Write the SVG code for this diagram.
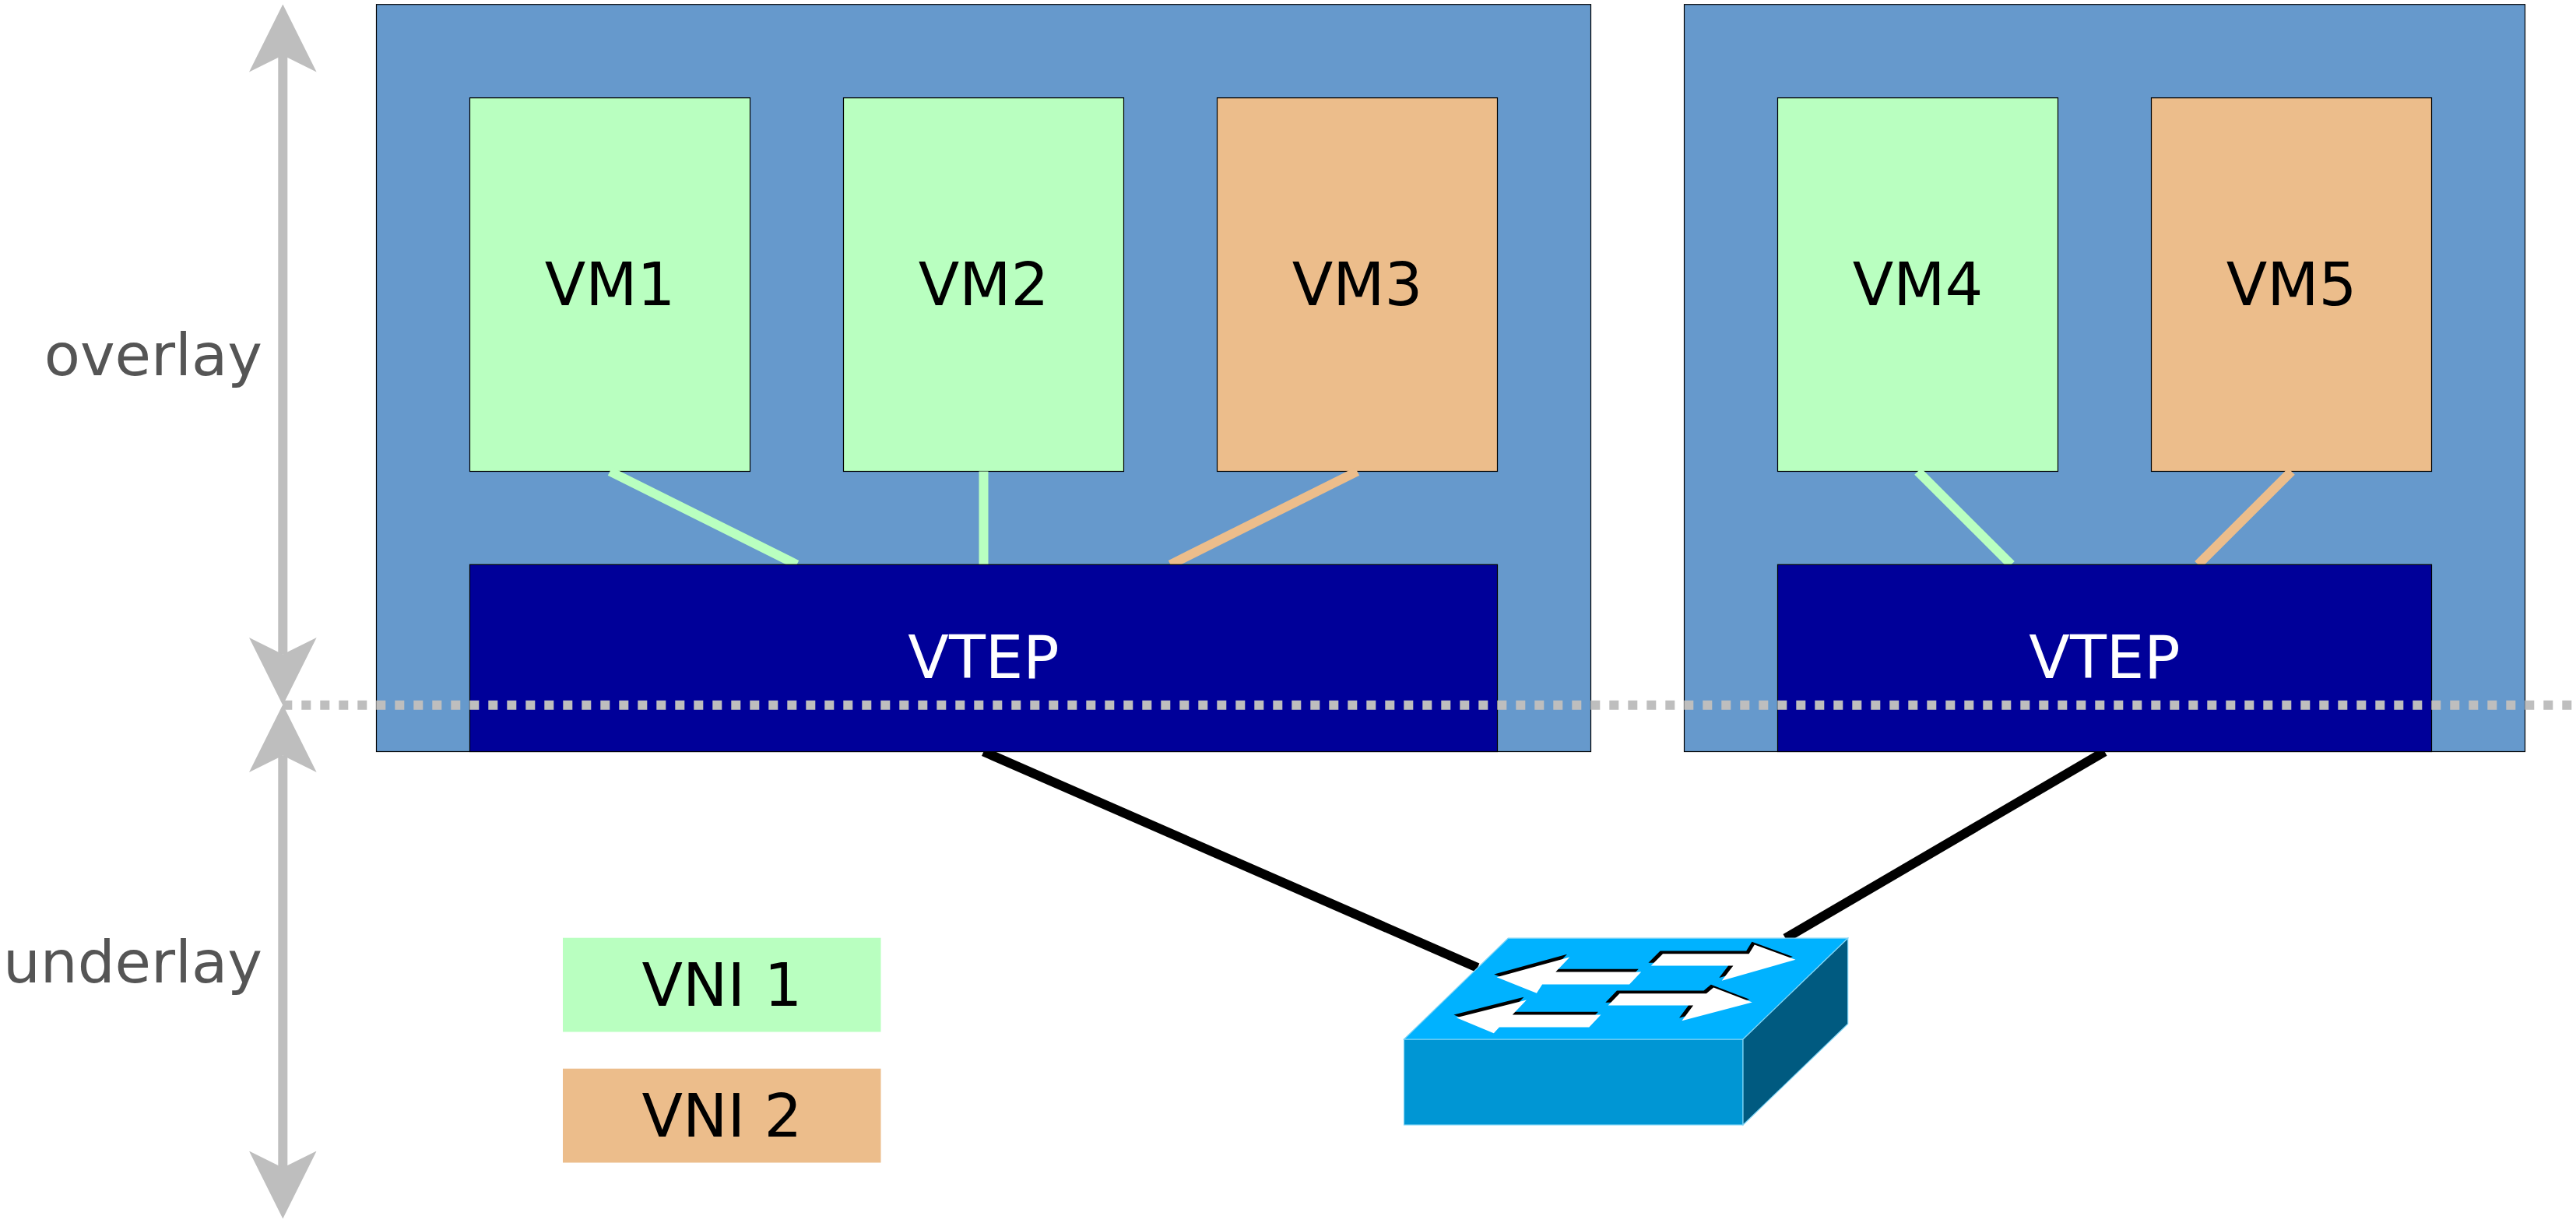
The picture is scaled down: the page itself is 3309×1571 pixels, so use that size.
<svg xmlns="http://www.w3.org/2000/svg" width="3309" height="1571" viewBox="0 0 3309 1571">
<style>
.host{fill:#6699cc;stroke:#000;stroke-width:1.2}
.g{fill:#b9ffc0}
.o{fill:#ecbd8b}
.vm{stroke:#000;stroke-width:1.2}
.vtep{fill:#000099;stroke:#000;stroke-width:1.2}
.t{font-family:"DejaVu Sans",sans-serif;font-size:76.8px;text-anchor:middle;fill:#000}
.w{fill:#fff}
.side{font-family:"DejaVu Sans",sans-serif;font-size:75.5px;text-anchor:end;fill:#555}
.c{stroke-width:12;fill:none}
.cg{stroke:#b9ffc0}
.co{stroke:#ecbd8b}
.ck{stroke:#000}
.ax{stroke:#bebebe;stroke-width:12;fill:none;marker-start:url(#head);marker-end:url(#head)}
.sw{stroke:#7fd4f5;stroke-width:1.2}
</style>
<defs>
<marker id="head" markerUnits="userSpaceOnUse" markerWidth="87" markerHeight="87" viewBox="0 0 87 87" refX="21.5" refY="43.35" orient="auto-start-reverse">
<path d="M87 43.35L0 0L21.5 43.35L0 86.7Z" fill="#bebebe"/>
</marker>
<polygon id="a1" points="1922.6,1255.2 2016.4,1229.5 1998.3,1248.5 2108.2,1248.5 2093,1264.5 1981.1,1264.5 1973.9,1275.8"/>
<polygon id="a2" points="1870.8,1307.2 1960.9,1284.5 1942.8,1303.5 2056.4,1303.5 2041.3,1319.5 1925.9,1319.5 1918.8,1327.2"/>
<polygon id="a3" points="2120.8,1240.5 2136,1225.2 2246.6,1225.2 2253.8,1213.5 2306.4,1232.8 2211.7,1259.8 2226.4,1240.5"/>
<polygon id="a4" points="2065.7,1291.5 2080.4,1276.2 2191.9,1276.2 2201.2,1268.5 2250.8,1287.5 2160.4,1311.2 2175.1,1291.5"/>
</defs>
<rect width="3309" height="1571" fill="#fff"/>
<g id="host1"><rect class="host" x="483.5" y="5.7" width="1560" height="959.8"/></g>
<g id="host2"><rect class="host" x="2163.5" y="5.7" width="1080" height="959.8"/></g>
<g id="vm1"><rect class="vm g" x="603.5" y="125.7" width="360" height="479.8"/><text class="t" x="783.5" y="392">VM1</text></g>
<g id="vm2"><rect class="vm g" x="1083.5" y="125.7" width="360" height="479.8"/><text class="t" x="1263.5" y="392">VM2</text></g>
<g id="vm3"><rect class="vm o" x="1563.5" y="125.7" width="360" height="479.8"/><text class="t" x="1743.5" y="392">VM3</text></g>
<g id="vm4"><rect class="vm g" x="2283.5" y="125.7" width="360" height="479.8"/><text class="t" x="2463.5" y="392">VM4</text></g>
<g id="vm5"><rect class="vm o" x="2763.5" y="125.7" width="360" height="479.8"/><text class="t" x="2943.5" y="392">VM5</text></g>
<g id="connectors">
<line class="c cg" x1="783.5" y1="605.5" x2="1023.5" y2="725.3"/>
<line class="c cg" x1="1263.5" y1="605.5" x2="1263.5" y2="725.3"/>
<line class="c co" x1="1743.5" y1="605.5" x2="1503.5" y2="725.3"/>
<line class="c cg" x1="2463.5" y1="605.5" x2="2583.5" y2="725.3"/>
<line class="c co" x1="2943.5" y1="605.5" x2="2823.5" y2="725.3"/>
<line class="c ck" x1="1263.5" y1="965.5" x2="1898" y2="1243"/>
<line class="c ck" x1="2703.5" y1="965.5" x2="2293.5" y2="1205.3"/>
</g>
<g id="vtep1"><rect class="vtep" x="603.5" y="725.3" width="1320" height="240.2"/><text class="t w" x="1263.5" y="871.2">VTEP</text></g>
<g id="vtep2"><rect class="vtep" x="2283.5" y="725.3" width="840" height="240.2"/><text class="t w" x="2703.5" y="871.2">VTEP</text></g>
<g id="switch">
<rect class="sw" x="1803.5" y="1335" width="435.5" height="110" fill="#0096d4"/>
<polygon class="sw" points="1937.3,1205.2 2373.7,1205.2 2239,1335 1803.5,1335" fill="#00b2ff"/>
<polygon class="sw" points="2239,1335 2373.7,1205.2 2373.7,1315.2 2239,1445" fill="#005a80"/>
<g fill="#000" transform="translate(-3.4,-3.7)"><use href="#a1"/><use href="#a2"/><use href="#a3"/><use href="#a4"/></g>
<g fill="#fff"><use href="#a1"/><use href="#a2"/><use href="#a3"/><use href="#a4"/></g>
</g>
<g id="legend-vni1"><rect class="g" x="723" y="1204.7" width="408.5" height="120.8"/><text class="t" x="927.5" y="1291.7">VNI 1</text></g>
<g id="legend-vni2"><rect class="o" x="723" y="1372.7" width="408.5" height="120.8"/><text class="t" x="927.5" y="1459.7">VNI 2</text></g>
<g id="axes">
<line class="ax" x1="363.3" y1="71" x2="363.3" y2="840.5"/>
<line class="ax" x1="363.3" y1="970.5" x2="363.3" y2="1500"/>
<line x1="363.3" y1="905.7" x2="3309" y2="905.7" stroke="#bebebe" stroke-width="12" stroke-dasharray="12 12"/>
<text class="side" x="337" y="482.2">overlay</text>
<text class="side" x="337" y="1262">underlay</text>
</g>
</svg>
